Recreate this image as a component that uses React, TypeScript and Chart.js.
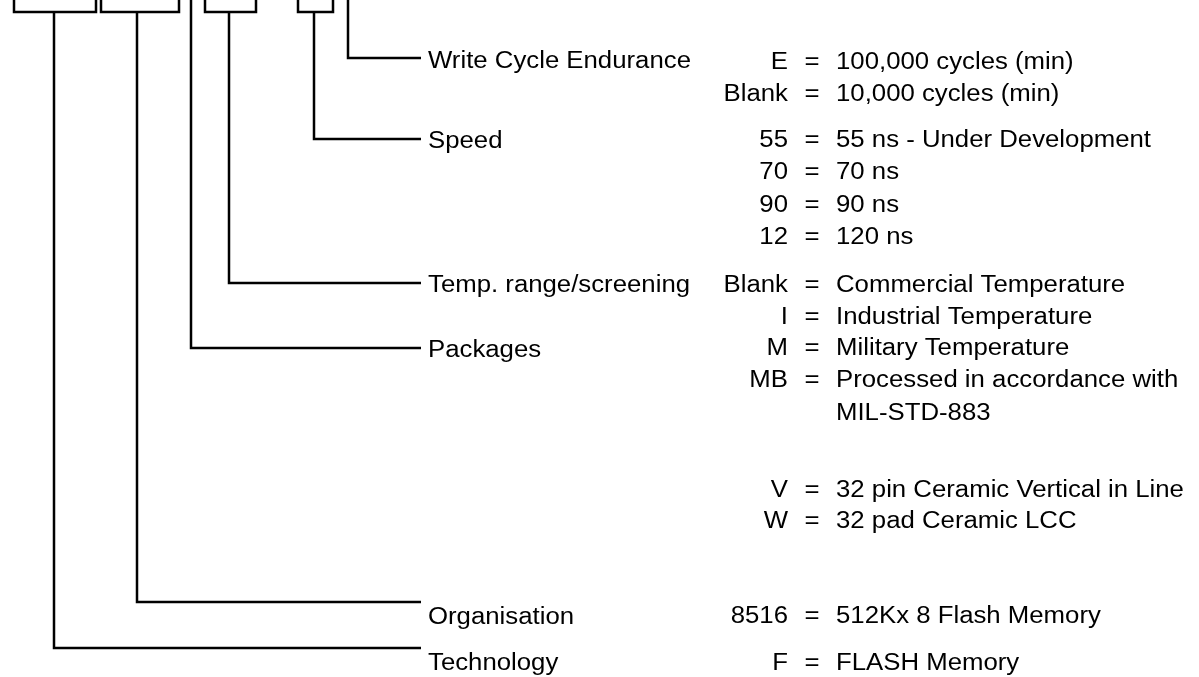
import React, { useEffect, useRef } from "react";
import { Chart, registerables } from "chart.js";

Chart.register(...registerables);

const CANVAS_W = 1199;
const CANVAS_H = 677;

// Part-number boxes (their top edges run off the top of the frame)
const boxLefts = [14, 101, 205, 298];
const boxRights = [96, 179, 256, 333];
const boxBottom = 12;
const frameTop = -10;

// Fields of the part number and their leader lines
const fieldNames = [
  "Write Cycle Endurance",
  "Speed",
  "Temp. range/screening",
  "Packages",
  "Organisation",
  "Technology",
];
const fieldStemX = [348, 314, 229, 191, 137, 54];
const fieldStemTop = [frameTop, boxBottom, boxBottom, frameTop, boxBottom, boxBottom];
const fieldLeaderY = [58, 139, 283, 348, 602, 648];
const fieldLabelY = [68, 148, 292, 357, 624, 670];
const leaderEndX = 421;

// Option codes and their meanings
const optionCodes = ["E", "Blank", "55", "70", "90", "12", "Blank", "I", "M", "MB", "", "V", "W", "8516", "F"];
const optionTexts = [
  "100,000 cycles (min)",
  "10,000 cycles (min)",
  "55 ns - Under Development",
  "70 ns",
  "90 ns",
  "120 ns",
  "Commercial Temperature",
  "Industrial Temperature",
  "Military Temperature",
  "Processed in accordance with",
  "MIL-STD-883",
  "32 pin Ceramic Vertical in Line",
  "32 pad Ceramic LCC",
  "512Kx 8 Flash Memory",
  "FLASH Memory",
];
const optionY = [69, 101, 147, 179, 212, 244, 292, 324, 355, 387, 420, 497, 528, 623, 670];

const labelX = 428;
const codeRightX = 788;
const equalsX = 812;
const textX = 836;

const FONT = '23px "Liberation Sans", Arial, sans-serif';
const STRETCH = 1.12;

const textPlugin = {
  id: "diagramText",
  afterDraw(chart: any) {
    const ctx = chart.ctx;
    const xs = chart.scales.x;
    const ys = chart.scales.y;
    const draw = (s: string, x: number, y: number, align: CanvasTextAlign) => {
      ctx.save();
      ctx.translate(xs.getPixelForValue(x), ys.getPixelForValue(y));
      ctx.scale(STRETCH, 1);
      ctx.font = FONT;
      ctx.fillStyle = "#000";
      ctx.textBaseline = "alphabetic";
      ctx.textAlign = align;
      ctx.fillText(s, 0, 0);
      ctx.restore();
    };
    fieldNames.forEach((n, i) => draw(n, labelX, fieldLabelY[i], "left"));
    optionCodes.forEach((c, i) => {
      if (c) {
        draw(c, codeRightX, optionY[i], "right");
        draw("=", equalsX, optionY[i], "center");
      }
      draw(optionTexts[i], textX, optionY[i], "left");
    });
  },
};

export default function App() {
  const ref = useRef<HTMLCanvasElement | null>(null);

  useEffect(() => {
    document.body.style.margin = "0";
    const canvas = ref.current;
    if (!canvas) return;

    const lineStyle = {
      showLine: true,
      pointRadius: 0,
      pointHoverRadius: 0,
      borderWidth: 2.5,
      borderColor: "#000",
      backgroundColor: "#000",
      fill: false,
      tension: 0,
      borderJoinStyle: "miter" as const,
      borderCapStyle: "butt" as const,
    };

    const datasets: any[] = [];
    boxLefts.forEach((l, i) => {
      const r = boxRights[i];
      datasets.push({
        ...lineStyle,
        data: [
          { x: l, y: frameTop },
          { x: l, y: boxBottom },
          { x: r, y: boxBottom },
          { x: r, y: frameTop },
        ],
      });
    });
    fieldStemX.forEach((sx, i) => {
      datasets.push({
        ...lineStyle,
        data: [
          { x: sx, y: fieldStemTop[i] },
          { x: sx, y: fieldLeaderY[i] },
          { x: leaderEndX, y: fieldLeaderY[i] },
        ],
      });
    });

    const chart = new Chart(canvas, {
      type: "scatter",
      data: { datasets },
      options: {
        animation: false,
        responsive: false,
        devicePixelRatio: 1,
        events: [],
        layout: { padding: 0 },
        plugins: {
          legend: { display: false },
          tooltip: { enabled: false },
          title: { display: false },
        },
        scales: {
          x: { type: "linear", min: 0, max: CANVAS_W, display: false },
          y: { type: "linear", min: 0, max: CANVAS_H, reverse: true, display: false },
        },
      },
      plugins: [textPlugin],
    });
    return () => chart.destroy();
  }, []);

  return (
    <div style={{ position: "fixed", left: 0, top: 0, width: CANVAS_W, height: CANVAS_H, background: "#fff" }}>
      <canvas ref={ref} width={CANVAS_W} height={CANVAS_H} style={{ display: "block" }} />
    </div>
  );
}
